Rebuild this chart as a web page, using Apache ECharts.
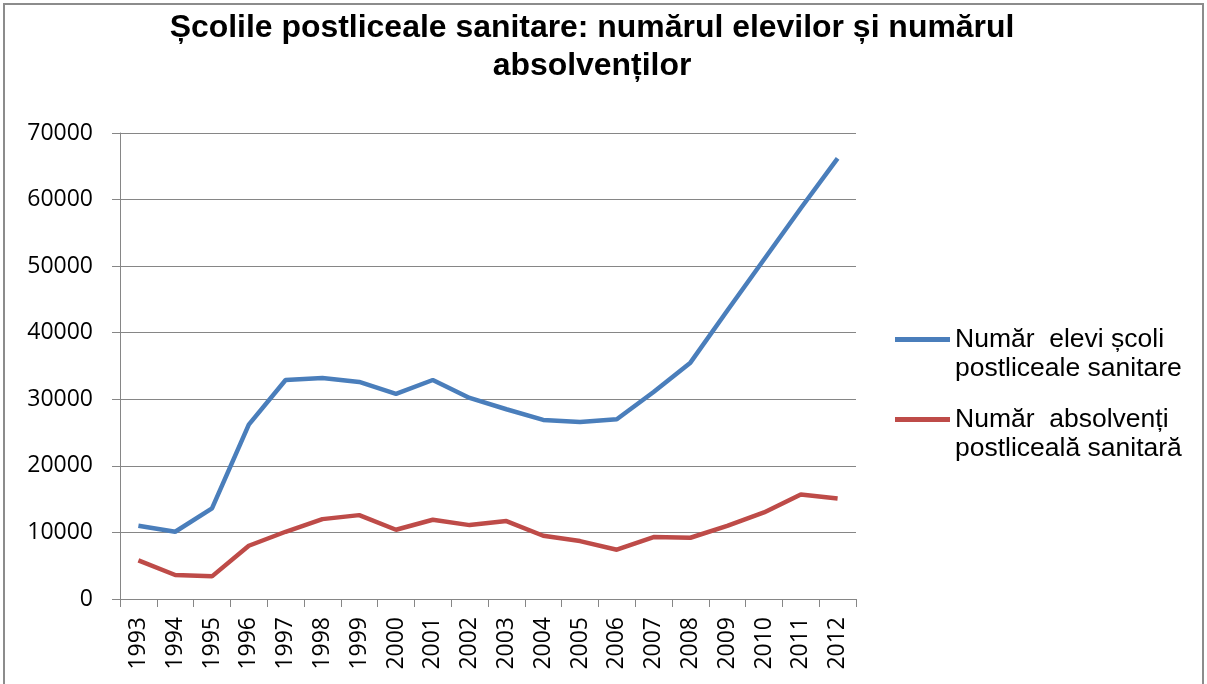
<!DOCTYPE html>
<html>
<head>
<meta charset="utf-8">
<script src="https://cdn.jsdelivr.net/npm/echarts@6/dist/echarts.min.js"></script>
<style>
html,body{margin:0;padding:0;background:#fff;}
#chart{width:1207px;height:684px;}
</style>
</head>
<body>
<div id="chart"></div>
<script>
var titleText = 'Școlile postliceale sanitare: numărul elevilor și numărul\nabsolvenților';
var years = ['1993','1994','1995','1996','1997','1998','1999','2000','2001','2002','2003','2004','2005','2006','2007','2008','2009','2010','2011','2012'];
var elevi = [11000,10100,13600,26200,32900,33200,32600,30800,32900,30200,28500,26900,26600,27000,31100,35500,43300,51000,58700,66200];
var absolventi = [5800,3600,3400,8000,10100,12000,12600,10400,11900,11100,11700,9500,8700,7400,9300,9200,11000,13000,15700,15100];
var seriesNames = ['Număr  elevi școli\npostliceale sanitare', 'Număr  absolvenți\npostliceală sanitară'];
var yTicks = { min: 0, max: 70000, interval: 10000 };

var chart = echarts.init(document.getElementById('chart'));
var legendBase = {
  orient: 'vertical', left: 895, padding: 0, itemWidth: 55, itemHeight: 5, itemGap: 0, icon: 'rect',
  formatter: function (n) { return '\n' + n; },
  textStyle: { fontFamily: 'Liberation Sans', fontSize: 26.5, color: '#000', lineHeight: 29 }
};
chart.setOption({
  animation: false,
  backgroundColor: '#fff',
  graphic: [{
    type: 'rect', shape: { x: 4, y: 4, width: 1199, height: 700 },
    style: { fill: 'none', stroke: '#8c8c8c', lineWidth: 2 }, silent: true
  }, {
    type: 'text', x: 592, y: 47, scaleX: 1.03, silent: true,
    style: { text: titleText, fill: '#000', font: 'bold 31px "Liberation Sans"', lineHeight: 38, align: 'center', verticalAlign: 'middle' }
  }],
  legend: [
    Object.assign({}, legendBase, { data: [seriesNames[0]], top: 296 }),
    Object.assign({}, legendBase, { data: [seriesNames[1]], top: 376 })
  ],
  grid: { left: 120, right: 351, top: 133, bottom: 85, containLabel: false },
  xAxis: {
    type: 'category', data: years, boundaryGap: true,
    axisLine: { lineStyle: { color: '#868686', width: 1 } },
    axisTick: { show: true, length: 8, lineStyle: { color: '#868686' } },
    axisLabel: { rotate: 90, interval: 0, margin: 18, fontFamily: 'Open Sans', fontSize: 23, color: '#000' },
    splitLine: { show: false }
  },
  yAxis: {
    type: 'value', min: yTicks.min, max: yTicks.max, interval: yTicks.interval,
    axisLine: { show: true, lineStyle: { color: '#868686', width: 1 } },
    axisTick: { show: true, length: 8, lineStyle: { color: '#868686' } },
    axisLabel: { margin: 27, fontFamily: 'Open Sans', fontSize: 23, color: '#000', formatter: function (v) { return String(v); } },
    splitLine: { show: true, lineStyle: { color: '#868686', width: 1 } }
  },
  series: [
    { name: seriesNames[0], type: 'line', data: elevi, symbol: 'none', lineStyle: { color: '#4a7ebb', width: 4.5 }, itemStyle: { color: '#4a7ebb' } },
    { name: seriesNames[1], type: 'line', data: absolventi, symbol: 'none', lineStyle: { color: '#be4b48', width: 4.5 }, itemStyle: { color: '#be4b48' } }
  ]
});
</script>
</body>
</html>
